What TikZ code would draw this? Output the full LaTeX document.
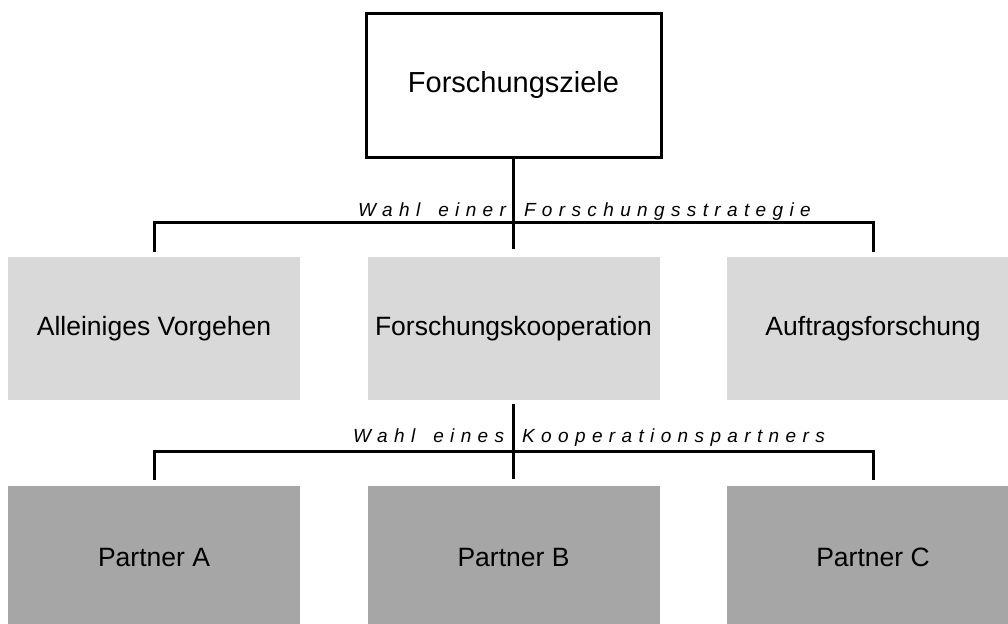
\documentclass[tikz,border=0pt]{standalone}
\usepackage{fontspec}
\setmainfont{Liberation Sans}
\newfontfamily\spacedfont[LetterSpace=33.5]{Liberation Sans}
\usetikzlibrary{calc}
\definecolor{lightg}{HTML}{D9D9D9}
\definecolor{darkg}{HTML}{A6A6A6}
\newcommand{\wsp}{ \kern6.4pt}
\begin{document}
\begin{tikzpicture}[x=1pt,y=-1pt,
  topbox/.style={draw=black, line width=3pt, fill=white, minimum width=295pt, minimum height=144pt, inner sep=0pt, font=\fontsize{29}{34}\selectfont},
  midbox/.style={fill=lightg, minimum width=292pt, minimum height=143pt, inner sep=0pt, font=\fontsize{26.5}{31}\selectfont},
  lowbox/.style={fill=darkg, minimum width=292pt, minimum height=143pt, inner sep=0pt, font=\fontsize{26.5}{31}\selectfont},
  conn/.style={line width=3pt, line join=miter},
  lab/.style={inner sep=0pt, anchor=base west, font=\spacedfont\itshape\fontsize{19}{22}\selectfont}]
\useasboundingbox (0,0) rectangle (1008,623);
\clip (0,0) rectangle (1008,623);
\fill[white] (0,0) rectangle (1008,623);

\node[topbox] (T) at (513.5,85.5) {Forschungsziele};

\node[midbox] (L) at (154,328.5) {Alleiniges Vorgehen};
\node[midbox] (M) at (513.5,328.5) {Forschungskooperation};
\node[midbox] (R) at (873,328.5) {Auftragsforschung};

\node[lowbox] (PA) at (154,557.5) {Partner A};
\node[lowbox] (PB) at (513.5,557.5) {Partner B};
\node[lowbox] (PC) at (873,557.5) {Partner C};

\coordinate (j1) at (513.5,222);
\coordinate (j2) at (513.5,451);

\node[lab] (l1) at (358,216) {Wahl\wsp einer\wsp Forschungsstrategie};
\node[lab] (l2) at (353,442) {Wahl\wsp eines\wsp Kooperationspartners};

\draw[conn] (T.south) -- ($(M.north)+(0,-8)$);
\draw[conn] ($(L.north)+(0,-5)$) -- (L.north |- j1) -- (R.north |- j1) -- ($(R.north)+(0,-5)$);

\draw[conn] ($(M.south)+(0,4)$) -- ($(PB.north)+(0,-7)$);
\draw[conn] ($(PA.north)+(0,-6)$) -- (PA.north |- j2) -- (PC.north |- j2) -- ($(PC.north)+(0,-6)$);
\end{tikzpicture}
\end{document}
